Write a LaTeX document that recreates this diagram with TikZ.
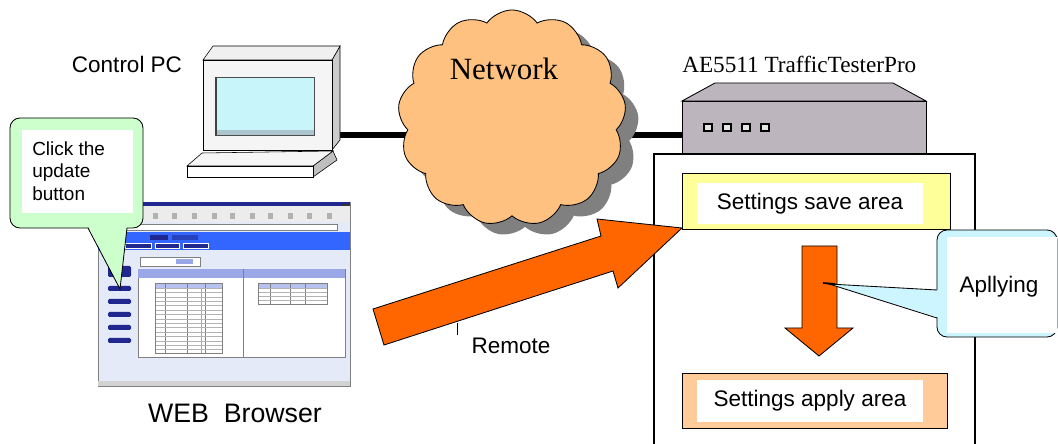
\documentclass[tikz,border=0pt]{standalone}
\usepackage{fontspec}
\setmainfont{Liberation Sans}
\newfontfamily\serifface{Liberation Serif}
\usetikzlibrary{shapes.symbols}

\definecolor{netorange}{RGB}{255,193,128}
\definecolor{shadowgray}{RGB}{128,128,128}
\definecolor{pushorange}{RGB}{255,102,0}
\definecolor{saveyellow}{RGB}{255,255,153}
\definecolor{applypeach}{RGB}{255,204,153}
\definecolor{boxgray}{RGB}{189,181,189}
\definecolor{hintgreen}{RGB}{204,255,204}
\definecolor{tipcyan}{RGB}{204,245,255}
\definecolor{screencyan}{RGB}{200,245,250}
\definecolor{webblue}{RGB}{51,102,255}
\definecolor{navblue}{RGB}{32,40,144}
\definecolor{pagebg}{RGB}{228,234,248}
\definecolor{headblue}{RGB}{154,168,232}

\begin{document}
\begin{tikzpicture}[
        x=0.025cm, y=-0.025cm,
        txt/.style={font=\fontsize{16}{19}\selectfont, inner sep=0pt},
        serifbig/.style={font=\serifface\fontsize{22}{26}\selectfont, inner sep=0pt},
        serifsmall/.style={font=\serifface\fontsize{16.5}{19}\selectfont, inner sep=0pt},
        outerbox/.style={draw, line width=0.6pt, minimum width=6.7cm, minimum height=1.4cm, inner sep=0pt},
        innerbox/.style={fill=white, minimum width=5.65cm, minimum height=1.03cm, inner sep=0pt, font=\fontsize{16}{19}\selectfont},
        cloudshape/.style={cloud, cloud puffs=13, cloud puff arc=110, aspect=1.05,
            minimum width=5.7cm, minimum height=5.4cm, inner sep=0pt},
        cable/.style={line width=0.15cm},
        fat/.style={fill=pushorange, draw, line width=0.6pt},
        callout/.style={draw, line width=0.6pt, rounded corners=0.25cm, inner sep=0pt},
        thin/.style={line width=0.2pt},
    ]
    \useasboundingbox (0,0) rectangle (1058,444);

    % --- labels ---
    \node[txt] (pclabel) at (127,64) {Control PC};
    \node[serifsmall, anchor=west] (aelabel) at (682,64.5) {AE5511 TrafficTesterPro};

    % --- cable behind the cloud ---
    \coordinate (pcport) at (338,135);
    \coordinate (aeport) at (684,135);
    \draw[cable] (pcport) -- (aeport);

    % --- network cloud ---
    \node[cloudshape, fill=shadowgray] (netshadow) at (525,129) {};
    \node[cloudshape, draw, fill=netorange, line width=0.6pt] (net) at (512,118) {};
    \node[serifbig] (nettext) at (504,69) {Network};

    % --- control PC ---
    \draw[fill=gray!40] (332,60) -- (340,46) -- (340,140) -- (332,150) -- cycle;
    \draw[fill=gray!12] (203,60) -- (213,46) -- (340,46) -- (332,60) -- cycle;
    \draw[fill=gray!8] (203,60) rectangle (332,150);
    \draw[fill=screencyan, draw=black!70] (215,77) rectangle (314,135);
    \fill[gray!70!cyan!60] (216,130) rectangle (314,135);
    \draw[line width=1.2pt, black!75] (216,77) -- (216,135);
    \draw[fill=gray!50] (313,166) -- (333,151) -- (337,160) -- (313,177) -- cycle;
    \draw[fill=gray!8] (202,153) -- (333,151) -- (313,166) -- (187,166) -- cycle;
    \draw[fill=white] (187,166) rectangle (313,177);

    % --- web browser window ---
    \draw[thin, draw=gray, fill=pagebg] (98,202) rectangle (350,386);
    \fill[navblue] (98,202) rectangle (350,206);
    \fill[black!80] (342,204) rectangle (350,212);
    \fill[gray!15] (98,206) rectangle (350,222);
    \foreach \ix in {153,172,192,212,230,250,268,288,307,327}
        \fill[gray!60] (\ix,213) rectangle ++(5,6);
    \draw[thin, draw=gray, fill=white] (98,224) rectangle (337,230);
    \fill[webblue] (98,232) rectangle (350,250);
    \fill[white!85!webblue] (98,234) rectangle (118,239);
    \fill[navblue] (150,235) rectangle (168,240);
    \fill[navblue!60!webblue] (172,235) rectangle (198,240);
    \fill[green!70!black] (120,243) rectangle (124,248);
    \foreach \ax/\bx in {125/151,155/179,183/208}
        \draw[thin, draw=white, fill=navblue] (\ax,243) rectangle (\bx,248);
    \draw[thin, draw=gray, fill=white] (140,257) rectangle (200,266);
    \fill[headblue] (176,259) rectangle (193,264);
    % nav buttons
    \fill[navblue, rounded corners=1pt] (108,266) rectangle (131,277);
    \foreach \iy in {286,299,312,325,338}
        \fill[navblue, rounded corners=1pt] (108,\iy) rectangle (131,\iy+5);
    % content panel with two tables
    \draw[thin, draw=gray, fill=white] (138,269) rectangle (345,357);
    \fill[headblue] (138,269) rectangle (345,278);
    \draw[thin, draw=gray] (243,269) -- (243,357);
    \draw[thin, draw=gray!70] (155,283) grid[xstep=67, ystep=4.4] (222,353);
    \fill[headblue!70] (155,283) rectangle (222,288);
    \foreach \cx in {165,187,205}
        \draw[thin, draw=gray] (\cx,283) -- (\cx,353);
    \foreach \ry in {288,292.4,...,352}
        \draw[thin, draw=gray!60] (155,\ry) -- (222,\ry);
    \draw[thin, draw=gray] (155,283) rectangle (222,353);
    \fill[headblue!70] (258,283) rectangle (327,288);
    \foreach \cx in {270,290,305}
        \draw[thin, draw=gray] (\cx,283) -- (\cx,304);
    \foreach \ry in {288,292,296,300}
        \draw[thin, draw=gray!60] (258,\ry) -- (327,\ry);
    \draw[thin, draw=gray] (258,283) rectangle (327,304);
    \fill[gray!35] (98,381) rectangle (350,386);
    \node[font=\fontsize{19}{22}\selectfont, inner sep=0pt] (weblabel) at (235,413) {WEB\ \ Browser};

    % --- green hint callout ---
    \node[callout, fill=hintgreen, minimum width=3.325cm, minimum height=2.75cm] (hint) at (76.5,173) {};
    \fill[hintgreen] (88,226) -- (120,289) -- (127,226) -- cycle;
    \draw[line width=0.6pt] (88,228) -- (120,289) -- (127,228);
    \node[fill=white, minimum width=2.775cm, minimum height=2.075cm, inner sep=0pt] (hintbody) at (77.5,171.5) {};
    \node[anchor=north west, align=left, inner sep=0pt,
          font=\fontsize{13.5}{16.3}\selectfont] (hinttext) at (32,141) {Click the\\update\\button};

    % --- traffic tester box ---
    \draw[fill=boxgray, line width=0.6pt] (682,101) -- (715,83) -- (893,83) -- (926,101) -- cycle;
    \draw[fill=boxgray, line width=0.6pt] (682,101) rectangle (926,156);
    \foreach \lx in {704,723,742,761}
        \draw[fill=gray!20, line width=0.8pt] (\lx,124) rectangle ++(8,7);

    % --- settings panel ---
    \fill[white] (654,154) rectangle (975,444);
    \draw[line width=0.9pt] (654,444) -- (654,154) -- (975,154) -- (975,444);

    \node[outerbox, fill=saveyellow] (save) at (816,201) {};
    \node[innerbox] (savetext) at (810,203.5) {Settings save area};

    \node[outerbox, fill=applypeach, minimum width=6.625cm, minimum height=1.375cm] (apply) at (814.5,400.5) {};
    \node[innerbox, minimum height=1.05cm] (applytext) at (810,401) {Settings apply area};

    \draw[fat] (802,246) -- (837,246) -- (837,328) -- (853,328) -- (819,356) -- (785,328) -- (802,328) -- cycle;

    % --- applying callout ---
    \node[callout, fill=tipcyan, minimum width=3cm, minimum height=2.675cm] (tip) at (997,283.5) {};
    \fill[tipcyan] (940,290) -- (829,284) -- (940,318) -- cycle;
    \draw[line width=0.6pt] (937,290) -- (829,284) -- (937,318);
    \draw[line width=1.2pt] (823,283) -- (835,284);
    \node[fill=white, minimum width=2.75cm, minimum height=2.4cm, inner sep=0pt] (tipbody) at (1002,285) {};
    \node[txt] (tiptext) at (999,287) {Apllying};

    % --- remote arrow ---
    \draw[fat] (373,309) -- (601,236) -- (597,219) -- (682,228) -- (618,288) -- (613,271) -- (384,345) -- cycle;
    \draw[line width=0.6pt] (457,323) -- (457,335);
    \node[txt] (remote) at (511,346) {Remote};

\end{tikzpicture}
\end{document}
